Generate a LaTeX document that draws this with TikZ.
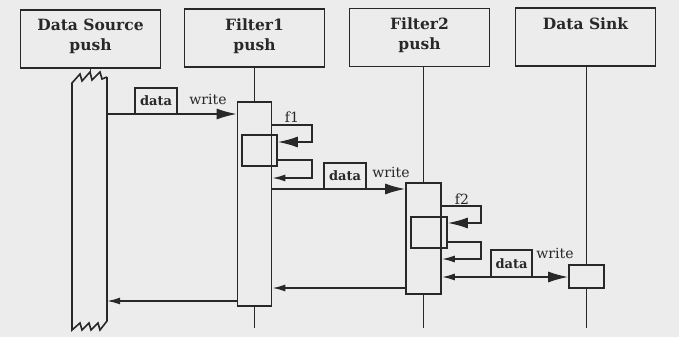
\documentclass[tikz,border=0pt]{standalone}
\usepackage{fontspec}
\setmainfont{DejaVu Serif}
\usetikzlibrary{arrows.meta}
\definecolor{ink}{RGB}{40,40,40}
\definecolor{paper}{RGB}{236,236,236}
\begin{document}
\begin{tikzpicture}[x=1pt,y=-1pt,
  line/.style={draw=ink, line width=1.6pt, line join=miter},
  hbox/.style={draw=ink, line width=1.6pt, minimum width=140pt, minimum height=58pt, inner sep=0pt},
  htext/.style={anchor=north, align=center, font=\fontsize{15.5}{20}\selectfont\bfseries, text=ink, inner sep=0pt},
  bar/.style={draw=ink, line width=1.6pt, inner sep=0pt},
  dbox/.style={draw=ink, line width=1.6pt, font=\fontsize{13}{15}\selectfont\bfseries, text=ink, inner sep=0pt},
  lbl/.style={font=\fontsize{14}{16}\selectfont, text=ink, inner sep=0pt},
  big/.style={-{Latex[length=20pt,width=11pt]}},
  small/.style={-{Latex[length=13pt,width=7pt]}}]
\useasboundingbox[fill=paper] (0,0) rectangle (679,337);

% headers
\node[hbox] (ds) at (90.5,39) {};
\node[hbox] (f1) at (254.5,38) {};
\node[hbox] (f2) at (419.5,37.5) {};
\node[hbox] (sk) at (585.5,37) {};
\node[htext] (dst) at ([yshift=-10pt]ds.north) {Data Source\\push};
\node[htext] (f1t) at ([yshift=-10pt]f1.north) {Filter1\\push};
\node[htext] (f2t) at ([yshift=-10pt]f2.north) {Filter2\\push};
\node[htext] (skt) at ([yshift=-10pt]sk.north) {Data Sink};

% data source activation with broken ends
\coordinate (dstop) at (90.5,75);
\draw[line] (ds.south) -- (dstop);
\draw[line] (107,77) -- (107,321) -- (100,330) -- (98,323) -- (91,330) -- (89,323) -- (82,330) -- (80,323) -- (72,330) -- (72,83)
  -- (80,74) -- (82,81) -- (90,72) -- (92,80) -- (100,72) -- (102,79) -- (107,77);
\coordinate (dsw) at (107,114);
\coordinate (dsret) at (107,301);

% Filter1
\node[bar, minimum width=34pt, minimum height=204pt] (f1bar) at (254.5,204) {};
\node[bar, minimum width=35pt, minimum height=31pt] (f1in) at (259.5,150.5) {};
\coordinate (f1end) at (254.5,328);
\draw[line] (f1.south) -- (f1bar.north);
\draw[line] (f1bar.south) -- (f1end);

% Filter2
\node[bar, minimum width=35pt, minimum height=111pt] (f2bar) at (423.5,238.5) {};
\node[bar, minimum width=36pt, minimum height=31pt] (f2in) at (429,232.5) {};
\coordinate (f2end) at (423.5,328);
\draw[line] (f2bar.north |- f2.south) -- (f2bar.north);
\draw[line] (f2bar.south) -- (f2end);

% Sink
\node[bar, minimum width=35pt, minimum height=23pt] (skbar) at (586.5,276.5) {};
\coordinate (skend) at (586.5,328);
\draw[line] (skbar.north |- sk.south) -- (skbar.north);
\draw[line] (skbar.south) -- (skend);

% write 1
\node[dbox, minimum width=42pt, minimum height=26pt] (d1) at (156,101) {data};
\draw[line,big] (dsw) -- (dsw -| f1bar.west);
\node[lbl] (w1) at (208,99) {write};

% f1 call and return
\draw[line,big] (f1bar.east |- 0,125) -- (312,125) -- (312,142) -- (f1in.east |- 0,142);
\node[lbl] (f1l) at (292,117) {f1};
\draw[line,small] (f1in.east |- 0,160) -- (312,160) -- (312,178) -- (f1bar.east |- 0,178);

% write 2
\node[dbox, minimum width=42pt, minimum height=26pt] (d2) at (345,176) {data};
\draw[line,big] (f1bar.east |- 0,189) -- (f2bar.west |- 0,189);
\node[lbl] (w2) at (391,172) {write};

% f2 call and return
\draw[line,big] (f2bar.east |- 0,206) -- (481,206) -- (481,223) -- (f2in.east |- 0,223);
\node[lbl] (f2l) at (462,199) {f2};
\draw[line,small] (f2in.east |- 0,242) -- (481,242) -- (481,259) -- (f2bar.east |- 0,259);

% write 3
\node[dbox, minimum width=41pt, minimum height=27pt] (d3) at (511.5,263.5) {data};
\draw[line,{Latex[length=13pt,width=7pt]}-{Latex[length=20pt,width=11pt]}] (f2bar.east |- 0,277) -- (skbar.west |- 0,277);
\node[lbl] (w3) at (555,253) {write};

% returns
\draw[line,small] (f2bar.west |- 0,288) -- (f1bar.east |- 0,288);
\draw[line,small] (f1bar.west |- 0,301) -- (dsret);
\end{tikzpicture}
\end{document}
